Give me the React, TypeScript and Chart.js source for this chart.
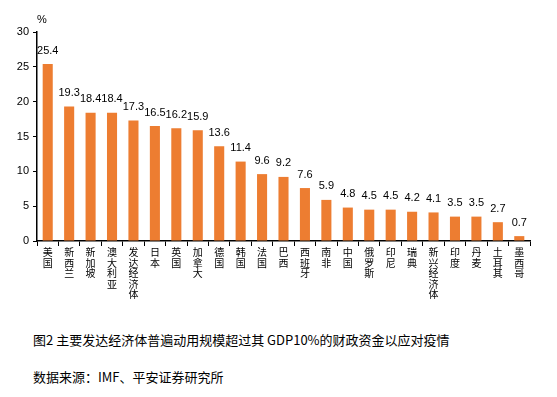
import React, { useEffect, useRef } from "react";
import { Chart, registerables } from "chart.js";

Chart.register(...registerables);

const categories = [
  "美国", "新西兰", "新加坡", "澳大利亚", "发达经济体", "日本", "英国", "加拿大", "德国", "韩国",
  "法国", "巴西", "西班牙", "南非", "中国", "俄罗斯", "印尼", "瑞典", "新兴经济体", "印度",
  "丹麦", "土耳其", "墨西哥",
];
const values = [
  25.4, 19.3, 18.4, 18.4, 17.3, 16.5, 16.2, 15.9, 13.6, 11.4, 9.6, 9.2, 7.6, 5.9, 4.8, 4.5, 4.5,
  4.2, 4.1, 3.5, 3.5, 2.7, 0.7,
];
const yTicks = [0, 5, 10, 15, 20, 25, 30];
const unitLabel = "%";
const captionTitle = "图2 主要发达经济体普遍动用规模超过其 GDP10%的财政资金以应对疫情";
const captionSource = "数据来源：IMF、平安证券研究所";

const valueLabels = {
  id: "valueLabels",
  afterDatasetsDraw(chart: any) {
    const ctx = chart.ctx;
    const meta = chart.getDatasetMeta(0);
    ctx.save();
    ctx.font = "11px 'Liberation Sans', Arial, sans-serif";
    ctx.fillStyle = "#000";
    ctx.textAlign = "center";
    ctx.textBaseline = "bottom";
    meta.data.forEach((bar: any, i: number) => {
      ctx.fillText(values[i].toFixed(1), bar.x, bar.y - 8);
    });
    // unit label
    const ya = chart.scales.y;
    ctx.fillText(unitLabel, ya.right + 5, chart.chartArea.top - 7);
    ctx.restore();
  },
};

export default function App() {
  const ref = useRef<HTMLCanvasElement>(null);
  useEffect(() => {
    document.body.style.margin = "0";
    const chart = new Chart(ref.current!, {
      type: "bar",
      data: {
        labels: categories.map((c) => c.split("")),
        datasets: [
          {
            data: values,
            backgroundColor: "#ED7D31",
            categoryPercentage: 1,
            barPercentage: 0.47,
          },
        ],
      },
      options: {
        animation: false,
        responsive: false,
        devicePixelRatio: 1,
        layout: { padding: { top: 32, right: 27, left: 0, bottom: 0 } },
        plugins: { legend: { display: false }, tooltip: { enabled: false } },
        scales: {
          x: {
            offset: true,
            grid: {
              display: true,
              offset: true,
              drawOnChartArea: false,
              color: "#000",
              tickLength: 5,
              tickColor: "#000",
            },
            border: { color: "#000", width: 1.5 },
            ticks: {
              autoSkip: false,
              maxRotation: 0,
              minRotation: 0,
              padding: 1,
              color: "#000",
              font: { family: "'Noto Sans CJK SC', sans-serif", size: 10, lineHeight: 1.05 },
            },
            afterFit(scale: any) {
              scale.height = 69;
            },
          },
          y: {
            min: 0,
            max: 30,
            afterBuildTicks(scale: any) {
              scale.ticks = yTicks.map((v) => ({ value: v }));
            },
            grid: {
              display: true,
              drawOnChartArea: false,
              tickLength: 4,
              tickColor: "#000",
            },
            border: { color: "#000", width: 1.5 },
            ticks: {
              padding: 4,
              color: "#000",
              font: { family: "'Liberation Sans', Arial, sans-serif", size: 11 },
            },
            afterFit(scale: any) {
              scale.width = 37;
            },
          },
        },
      },
      plugins: [valueLabels],
    });
    return () => chart.destroy();
  }, []);

  const capStyle: React.CSSProperties = {
    position: "absolute",
    left: 33,
    fontFamily: "'Noto Sans CJK SC', sans-serif",
    fontSize: 13,
    color: "#000",
    whiteSpace: "nowrap",
    lineHeight: "16px",
  };

  return (
    <div style={{ position: "relative", width: 557, height: 397, background: "#fff", overflow: "hidden" }}>
      <canvas ref={ref} width={557} height={310} style={{ position: "absolute", left: 0, top: 0, width: 557, height: 310 }} />
      <div style={{ ...capStyle, top: 332 }}>{captionTitle}</div>
      <div style={{ ...capStyle, top: 369 }}>{captionSource}</div>
    </div>
  );
}
